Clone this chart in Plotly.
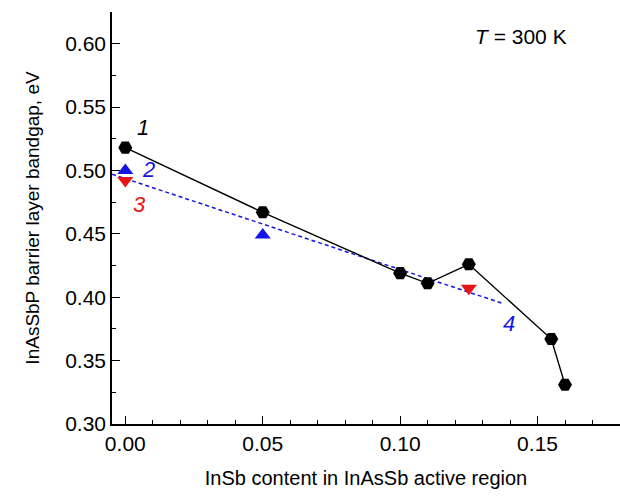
import plotly.graph_objects as go

# Data
x_black = [0.0, 0.05, 0.10, 0.11, 0.125, 0.155, 0.16]
y_black = [0.518, 0.467, 0.419, 0.411, 0.426, 0.367, 0.331]
x_blue = [0.0, 0.05]
y_blue = [0.500, 0.449]
x_red = [0.0, 0.125]
y_red = [0.492, 0.407]
x_fit = [-0.0048, 0.1375]
y_fit = [0.497, 0.395]
x_ticks = [0.0, 0.05, 0.10, 0.15]
x_ticklabels = ["0.00", "0.05", "0.10", "0.15"]
y_ticks = [0.30, 0.35, 0.40, 0.45, 0.50, 0.55, 0.60]
y_ticklabels = ["0.30", "0.35", "0.40", "0.45", "0.50", "0.55", "0.60"]

BLUE = "#1414e6"
RED = "#e61414"

fig = go.Figure()
fig.add_trace(go.Scatter(x=x_fit, y=y_fit, mode="lines",
                         line=dict(color=BLUE, width=1.5, dash="4px,3px"), showlegend=False))
fig.add_trace(go.Scatter(x=x_black, y=y_black, mode="lines+markers",
                         line=dict(color="black", width=1.4),
                         marker=dict(symbol="hexagon2", size=14, color="black"), showlegend=False))
fig.add_trace(go.Scatter(x=x_blue, y=y_blue, mode="markers",
                         marker=dict(symbol="triangle-up", size=14, color=BLUE), showlegend=False))
fig.add_trace(go.Scatter(x=x_red, y=y_red, mode="markers",
                         marker=dict(symbol="triangle-down", size=14, color=RED), showlegend=False))

font = "Liberation Sans, Arial, sans-serif"
ann = [
    dict(x=0.0065, y=0.534, text="<i>1</i>", color="black"),
    dict(x=0.0084, y=0.5008, text="<i>2</i>", color=BLUE),
    dict(x=0.0051, y=0.4732, text="<i>3</i>", color=RED),
    dict(x=0.1396, y=0.3795, text="<i>4</i>", color=BLUE),
]
for a in ann:
    fig.add_annotation(x=a["x"], y=a["y"], text=a["text"], showarrow=False,
                       font=dict(size=22, color=a["color"], family=font))
fig.add_annotation(x=0.144, y=0.606, text="<i>T</i> = 300 K", showarrow=False,
                   font=dict(size=21, color="black", family=font))

fig.update_layout(
    width=620, height=498, autosize=False,
    margin=dict(l=112, r=0, t=12, b=74),
    plot_bgcolor="white", paper_bgcolor="white",
    font=dict(family=font, size=21, color="black"),
)
fig.update_xaxes(range=[-0.00484, 0.18], tickvals=x_ticks, ticktext=x_ticklabels,
                 ticks="inside", ticklen=8, tickwidth=1.3, tickcolor="black",
                 minor=dict(dtick=0.01, tick0=0, ticks="inside", ticklen=4, tickcolor="black"),
                 showline=True, linecolor="black", linewidth=1.5, showgrid=False, zeroline=False,
                 automargin=False,
                 title=dict(text="InSb content in InAsSb active region", font=dict(size=20), standoff=17),
                 tickfont=dict(size=21))
fig.update_yaxes(range=[0.30, 0.625], tickvals=y_ticks, ticktext=y_ticklabels,
                 ticks="inside", ticklen=8, tickwidth=1.3, tickcolor="black",
                 minor=dict(dtick=0.025, tick0=0.3, ticks="inside", ticklen=4, tickcolor="black"),
                 showline=True, linecolor="black", linewidth=1.5, showgrid=False, zeroline=False,
                 automargin=False,
                 title=dict(text="InAsSbP barrier layer bandgap, eV", font=dict(size=19), standoff=21),
                 tickfont=dict(size=21))

fig.write_html("out.html", config={"displayModeBar": False},
               post_script="document.body.style.margin='0';document.body.style.overflow='hidden';")
